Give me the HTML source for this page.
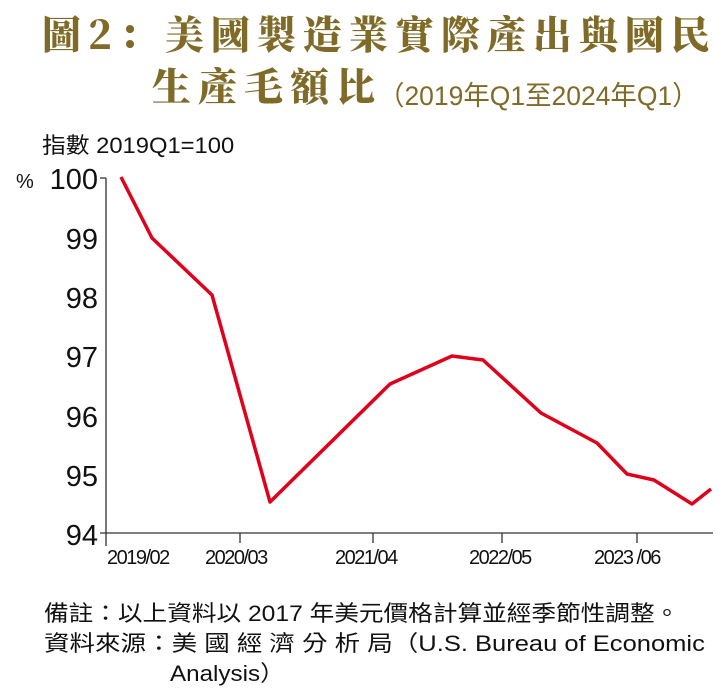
<!DOCTYPE html>
<html><head><meta charset="utf-8"><style>
body{margin:0;background:#fff;width:727px;height:697px;overflow:hidden;position:relative;font-family:"Liberation Sans","Noto Sans CJK TC",sans-serif;}
.t{position:absolute;color:#7f6b27;font-family:"Noto Serif CJK SC","Liberation Serif",serif;font-weight:900;font-size:39px;white-space:nowrap;line-height:1;transform-origin:left top;}
.s{position:absolute;white-space:nowrap;color:#111;transform-origin:left top;}
</style></head><body>
<div class="t" style="left:42px;top:14px;letter-spacing:7px;">圖2：美國製造業實際產出與國民</div>
<div class="t" style="left:152px;top:66px;letter-spacing:7px;">生產毛額比</div>
<div class="s" style="left:378px;top:74px;font-size:27px;color:#7f6b27;transform:scaleX(0.98);">（2019年Q1至2024年Q1）</div>
<div class="s" style="left:42px;top:128px;font-size:22px;transform:scaleX(1.08);">指數 2019Q1=100</div>
<svg width="727" height="697" style="position:absolute;left:0;top:0" font-family="Liberation Sans, sans-serif">
<g fill="#111" font-size="29" text-anchor="end">
<text x="98" y="189">100</text><text x="98" y="249">99</text><text x="98" y="308">98</text><text x="98" y="367">97</text><text x="98" y="427">96</text><text x="98" y="486">95</text><text x="98" y="545">94</text>
</g>
<text x="16" y="188" font-size="20" fill="#111">%</text>
<g stroke="#333" stroke-width="1.3">
<line x1="106" y1="178" x2="106" y2="546"/>
<line x1="100" y1="533" x2="713" y2="533"/>
<line x1="100" y1="178" x2="106" y2="178"/>
<line x1="240" y1="533" x2="240" y2="543"/><line x1="373" y1="533" x2="373" y2="543"/><line x1="502" y1="533" x2="502" y2="543"/><line x1="637" y1="533" x2="637" y2="543"/>
</g>
<g fill="#111" font-size="20" letter-spacing="-1.5">
<text x="107" y="564">2019/02</text><text x="205" y="564">2020/03</text><text x="335" y="564">2021/04</text><text x="469" y="564">2022/05</text><text x="594" y="564">2023 /06</text>
</g>
<polyline fill="none" stroke="#e0001b" stroke-width="3.5" stroke-linejoin="round" points="121,177 152,238 212,295 270,502 390,384 452,356 483,360 541,413 597,443 627,474 654,480 692,504 711,489"/>
</svg>
<div class="s" style="left:44px;top:596px;font-size:22px;transform:scaleX(1.12);">備註：以上資料以 2017 年美元價格計算並經季節性調整。</div>
<div class="s" style="left:44px;top:626px;font-size:22px;transform:scaleX(1.16);">資料來源：美 國 經 濟 分 析 局（U.S. Bureau of Economic</div>
<div class="s" style="left:170px;top:656px;font-size:22px;transform:scaleX(1.1);">Analysis）</div>
</body></html>
